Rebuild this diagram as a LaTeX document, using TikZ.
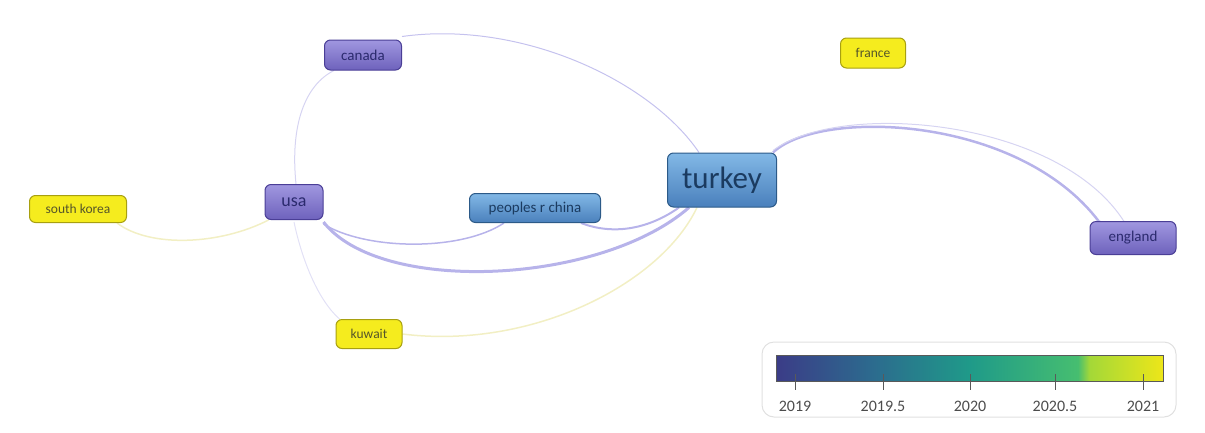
\documentclass[tikz,border=0pt]{standalone}
\usepackage{fontspec}
\setmainfont{Carlito}
\usetikzlibrary{positioning,backgrounds}

\definecolor{violettop}{HTML}{A097E0}
\definecolor{violetbot}{HTML}{6E62BC}
\definecolor{violetline}{HTML}{4A3E96}
\definecolor{violettext}{HTML}{2B2A6E}
\definecolor{bluetop}{HTML}{82B8E6}
\definecolor{bluebot}{HTML}{4A80BC}
\definecolor{blueline}{HTML}{2C5A88}
\definecolor{bluetext}{HTML}{1B3B60}
\definecolor{yellowfill}{HTML}{F5EC1E}
\definecolor{yellowline}{HTML}{A8A010}
\definecolor{yellowtext}{HTML}{55552A}
\definecolor{linkblue}{HTML}{B7B3EA}
\definecolor{linkpale}{HTML}{D6D4F2}
\definecolor{linkyellow}{HTML}{F2EFC4}
\definecolor{vir1}{HTML}{3B3C87}
\definecolor{vir2}{HTML}{2C6B8E}
\definecolor{vir3}{HTML}{1F9A89}
\definecolor{vir4}{HTML}{46BE70}
\definecolor{vir5}{HTML}{A4D838}
\definecolor{vir6}{HTML}{EDE619}

% the middle 50bp of a horizontal shading fills the path
\pgfdeclarehorizontalshading{viridisbar}{100bp}{color(0bp)=(vir1); color(25bp)=(vir1); color(37.5bp)=(vir2); color(50bp)=(vir3); color(64bp)=(vir4); color(65.5bp)=(vir5); color(75bp)=(vir6); color(100bp)=(vir6)}

\tikzset{
  country/.style={rounded corners=6pt, inner sep=0pt, line width=1pt},
  older/.style={country, draw=violetline, top color=violettop, bottom color=violetbot,
    text=violettext, font=\fontsize{15}{17}\selectfont},
  middle/.style={country, draw=blueline, top color=bluetop, bottom color=bluebot,
    text=bluetext, font=\fontsize{15}{17}\selectfont},
  newer/.style={country, draw=yellowline, fill=yellowfill,
    text=yellowtext, font=\fontsize{13.5}{15}\selectfont},
  link/.style={draw=linkblue, line width=1pt},
  pale/.style={draw=linkpale, line width=1pt},
  strong/.style={draw=linkblue, line width=3pt},
  faint/.style={draw=linkyellow, line width=1.5pt},
  tick/.style={draw=gray!70!black, line width=0.8pt},
  year/.style={text=black!70, font=\fontsize{16}{18}\selectfont, anchor=base}
}

\begin{document}
\begin{tikzpicture}[x=1pt,y=-1pt]
\useasboundingbox (0,0) rectangle (1205,432);

\node[older, minimum width=77, minimum height=30] (canada) at (363,55) {canada};
\node[newer, minimum width=65, minimum height=30] (france) at (873,53) {france};
\node[middle, minimum width=109, minimum height=54, font=\fontsize{31}{34}\selectfont] (turkey) at (722,180) {turkey};
\node[older, minimum width=58, minimum height=35, font=\fontsize{18}{20}\selectfont] (usa) at (294,202) {usa};
\node[newer, minimum width=97, minimum height=27] (korea) at (78,209) {south korea};
\node[middle, minimum width=131, minimum height=29] (china) at (535,208) {peoples r china};
\node[older, minimum width=86, minimum height=33] (england) at (1133,238) {england};
\node[newer, minimum width=66, minimum height=29] (kuwait) at (369,334) {kuwait};

\coordinate (ukin) at (1100,223);
\coordinate (ukout) at (1125,223);

% links, under the boxes
\begin{pgfonlayer}{background}
\draw[pale] ([xshift=2]usa.north) .. controls (290,125) and (305,85) .. ([xshift=10]canada.south west);
\draw[pale, draw=linkblue!80] ([yshift=3]canada.north east) .. controls (520,20) and (650,80) .. ([xshift=32]turkey.north west);
\draw[strong] ([yshift=-2]usa.south east) .. controls (380,295) and (600,285) .. ([xshift=22]turkey.south west);
\draw[link, line width=1.5pt] ([yshift=-4]usa.south east) .. controls (365,250) and (460,252) .. ([xshift=35]china.south west);
\draw[link, line width=2pt] ([xshift=-20]china.south east) .. controls (615,236) and (650,228) .. ([xshift=12]turkey.south west);
\draw[link, line width=2.5pt] ([xshift=-4]turkey.north east) .. controls (820,108) and (1020,115) .. (ukin) -- ([xshift=10]england.north west);
\draw[pale] ([xshift=-4,yshift=2]turkey.north east) .. controls (840,100) and (1060,118) .. (ukout) -- ([xshift=35]england.north west);
\draw[faint] ([xshift=4]usa.south west) .. controls (220,245) and (150,248) .. ([xshift=-10]korea.south east);
\draw[pale, draw=linkpale!70] ([yshift=-2]usa.south) .. controls (302,260) and (318,300) .. ([xshift=4]kuwait.north west);
\draw[faint] (kuwait.east) .. controls (530,350) and (660,285) .. ([xshift=30]turkey.south west);
\end{pgfonlayer}

% colour scale
\node[draw=black!12, line width=1pt, rounded corners=12pt, minimum width=414, minimum height=75] (legend) at (969,379.5) {};
\node[draw=black!65, line width=0.8pt, shading=viridisbar, inner sep=0pt, minimum width=387, minimum height=26] (bar) at (969.5,368) {};
\foreach \x/\lab in {795/2019, 883/2019.5, 970/2020, 1055/2020.5, 1143/2021} {
  \draw[tick] (\x,374) -- (\x,390);
  \node[year] at (\x,411) {\lab};
}

\end{tikzpicture}
\end{document}
